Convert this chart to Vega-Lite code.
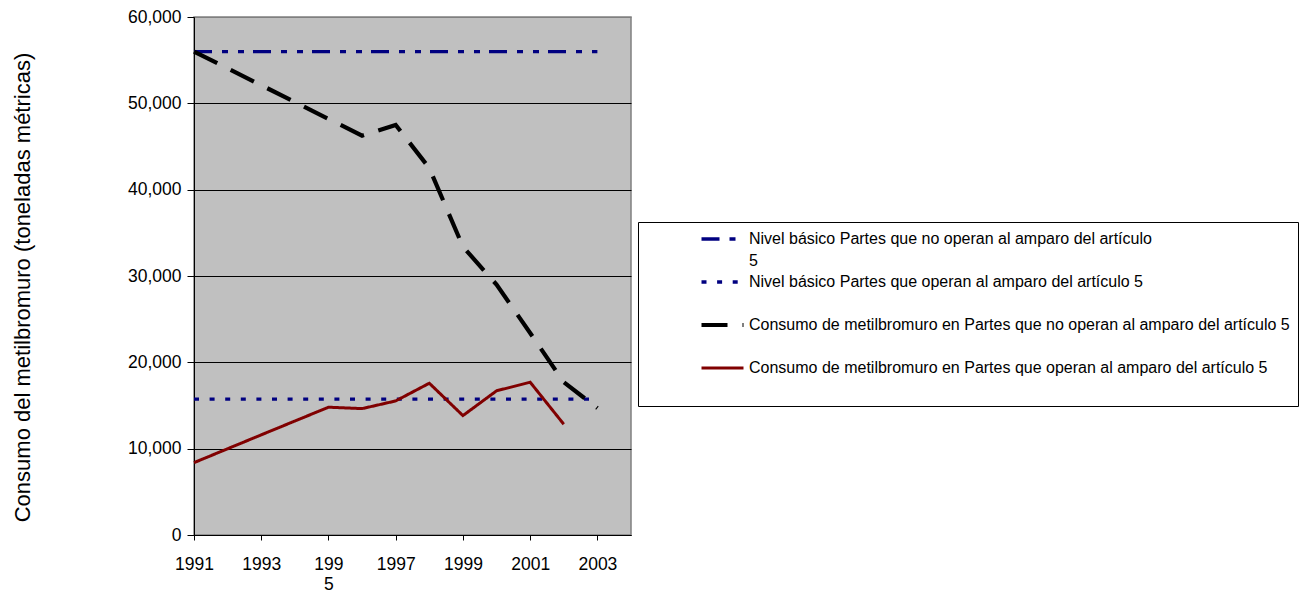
{
  "$schema": "https://vega.github.io/schema/vega-lite/v6.json",
  "width": 437,
  "height": 518,
  "autosize": {"type": "none"},
  "padding": {"left": 194, "top": 17, "right": 675, "bottom": 56},
  "background": "white",
  "config": {
    "font": "Liberation Sans",
    "view": {"fill": "#C0C0C0", "stroke": "#808080", "strokeWidth": 1.5}
  },
  "data": {
    "values": [
      {"year": 1991, "serie": "Nivel básico Partes que no operan al amparo del artículo 5", "value": 56000},
      {"year": 1992, "serie": "Nivel básico Partes que no operan al amparo del artículo 5", "value": 56000},
      {"year": 1993, "serie": "Nivel básico Partes que no operan al amparo del artículo 5", "value": 56000},
      {"year": 1994, "serie": "Nivel básico Partes que no operan al amparo del artículo 5", "value": 56000},
      {"year": 1995, "serie": "Nivel básico Partes que no operan al amparo del artículo 5", "value": 56000},
      {"year": 1996, "serie": "Nivel básico Partes que no operan al amparo del artículo 5", "value": 56000},
      {"year": 1997, "serie": "Nivel básico Partes que no operan al amparo del artículo 5", "value": 56000},
      {"year": 1998, "serie": "Nivel básico Partes que no operan al amparo del artículo 5", "value": 56000},
      {"year": 1999, "serie": "Nivel básico Partes que no operan al amparo del artículo 5", "value": 56000},
      {"year": 2000, "serie": "Nivel básico Partes que no operan al amparo del artículo 5", "value": 56000},
      {"year": 2001, "serie": "Nivel básico Partes que no operan al amparo del artículo 5", "value": 56000},
      {"year": 2002, "serie": "Nivel básico Partes que no operan al amparo del artículo 5", "value": 56000},
      {"year": 2003, "serie": "Nivel básico Partes que no operan al amparo del artículo 5", "value": 56000},
      {"year": 1991, "serie": "Nivel básico Partes que operan al amparo del artículo 5", "value": 15730},
      {"year": 1992, "serie": "Nivel básico Partes que operan al amparo del artículo 5", "value": 15730},
      {"year": 1993, "serie": "Nivel básico Partes que operan al amparo del artículo 5", "value": 15730},
      {"year": 1994, "serie": "Nivel básico Partes que operan al amparo del artículo 5", "value": 15730},
      {"year": 1995, "serie": "Nivel básico Partes que operan al amparo del artículo 5", "value": 15730},
      {"year": 1996, "serie": "Nivel básico Partes que operan al amparo del artículo 5", "value": 15730},
      {"year": 1997, "serie": "Nivel básico Partes que operan al amparo del artículo 5", "value": 15730},
      {"year": 1998, "serie": "Nivel básico Partes que operan al amparo del artículo 5", "value": 15730},
      {"year": 1999, "serie": "Nivel básico Partes que operan al amparo del artículo 5", "value": 15730},
      {"year": 2000, "serie": "Nivel básico Partes que operan al amparo del artículo 5", "value": 15730},
      {"year": 2001, "serie": "Nivel básico Partes que operan al amparo del artículo 5", "value": 15730},
      {"year": 2002, "serie": "Nivel básico Partes que operan al amparo del artículo 5", "value": 15730},
      {"year": 2003, "serie": "Nivel básico Partes que operan al amparo del artículo 5", "value": 15730},
      {"year": 1991, "serie": "Consumo de metilbromuro en Partes que no operan al amparo del artículo 5", "value": 56000},
      {"year": 1992, "serie": "Consumo de metilbromuro en Partes que no operan al amparo del artículo 5", "value": 54050},
      {"year": 1993, "serie": "Consumo de metilbromuro en Partes que no operan al amparo del artículo 5", "value": 52100},
      {"year": 1994, "serie": "Consumo de metilbromuro en Partes que no operan al amparo del artículo 5", "value": 50150},
      {"year": 1995, "serie": "Consumo de metilbromuro en Partes que no operan al amparo del artículo 5", "value": 48200},
      {"year": 1996, "serie": "Consumo de metilbromuro en Partes que no operan al amparo del artículo 5", "value": 46250},
      {"year": 1997, "serie": "Consumo de metilbromuro en Partes que no operan al amparo del artículo 5", "value": 47500},
      {"year": 1998, "serie": "Consumo de metilbromuro en Partes que no operan al amparo del artículo 5", "value": 42500},
      {"year": 1999, "serie": "Consumo de metilbromuro en Partes que no operan al amparo del artículo 5", "value": 33400},
      {"year": 2000, "serie": "Consumo de metilbromuro en Partes que no operan al amparo del artículo 5", "value": 29000},
      {"year": 2001, "serie": "Consumo de metilbromuro en Partes que no operan al amparo del artículo 5", "value": 23400},
      {"year": 2002, "serie": "Consumo de metilbromuro en Partes que no operan al amparo del artículo 5", "value": 17700},
      {"year": 2003, "serie": "Consumo de metilbromuro en Partes que no operan al amparo del artículo 5", "value": 14700},
      {"year": 1991, "serie": "Consumo de metilbromuro en Partes que operan al amparo del artículo 5", "value": 8380},
      {"year": 1992, "serie": "Consumo de metilbromuro en Partes que operan al amparo del artículo 5", "value": 9990},
      {"year": 1993, "serie": "Consumo de metilbromuro en Partes que operan al amparo del artículo 5", "value": 11600},
      {"year": 1994, "serie": "Consumo de metilbromuro en Partes que operan al amparo del artículo 5", "value": 13200},
      {"year": 1995, "serie": "Consumo de metilbromuro en Partes que operan al amparo del artículo 5", "value": 14800},
      {"year": 1996, "serie": "Consumo de metilbromuro en Partes que operan al amparo del artículo 5", "value": 14640},
      {"year": 1997, "serie": "Consumo de metilbromuro en Partes que operan al amparo del artículo 5", "value": 15530},
      {"year": 1998, "serie": "Consumo de metilbromuro en Partes que operan al amparo del artículo 5", "value": 17580},
      {"year": 1999, "serie": "Consumo de metilbromuro en Partes que operan al amparo del artículo 5", "value": 13830},
      {"year": 2000, "serie": "Consumo de metilbromuro en Partes que operan al amparo del artículo 5", "value": 16700},
      {"year": 2001, "serie": "Consumo de metilbromuro en Partes que operan al amparo del artículo 5", "value": 17700},
      {"year": 2002, "serie": "Consumo de metilbromuro en Partes que operan al amparo del artículo 5", "value": 12830}
    ]
  },
  "mark": {"type": "line", "clip": false},
  "encoding": {
    "x": {
      "field": "year",
      "type": "quantitative",
      "scale": {"domain": [1991, 2004], "nice": false, "zero": false},
      "axis": {
        "values": [1991, 1993, 1995, 1997, 1999, 2001, 2003],
        "format": "d",
        "title": null,
        "grid": false,
        "domainColor": "black",
        "domainWidth": 1,
        "tickColor": "black",
        "tickSize": 5,
        "labelPadding": 15,
        "labelFontSize": 17.5,
        "labelColor": "black",
        "labelLineHeight": 20,
        "labelFlush": false,
        "labelOverlap": false,
        "labelExpr": "datum.value == 1995 ? ['199', '5'] : datum.label"
      }
    },
    "y": {
      "field": "value",
      "type": "quantitative",
      "scale": {"domain": [0, 60000], "nice": false},
      "axis": {
        "values": [0, 10000, 20000, 30000, 40000, 50000, 60000],
        "format": ",d",
        "title": "Consumo del metilbromuro (toneladas métricas)",
        "titleFontSize": 22,
        "titleFontWeight": "normal",
        "titleColor": "black",
        "titleAngle": -90,
        "titleAlign": "center",
        "titleBaseline": "middle",
        "titleX": -171.5,
        "titleY": 270,
        "grid": true,
        "gridColor": {"condition": {"test": "datum.value == 60000", "value": "#808080"}, "value": "black"},
        "gridWidth": 1,
        "domainColor": "black",
        "tickColor": "black",
        "tickSize": 7,
        "labelPadding": 6,
        "labelFontSize": 17.5,
        "labelColor": "black",
        "labelFlush": false,
        "labelOverlap": false
      }
    },
    "color": {
      "field": "serie",
      "type": "nominal",
      "sort": null,
      "scale": {
        "domain": [
          "Nivel básico Partes que no operan al amparo del artículo 5",
          "Nivel básico Partes que operan al amparo del artículo 5",
          "Consumo de metilbromuro en Partes que no operan al amparo del artículo 5",
          "Consumo de metilbromuro en Partes que operan al amparo del artículo 5"
        ],
        "range": ["#000080", "#000080", "#000000", "#800000"]
      },
      "legend": {
        "title": null,
        "orient": "none",
        "legendX": 444,
        "legendY": 205,
        "direction": "vertical",
        "padding": 8,
        "fillColor": "white",
        "strokeColor": "black",
        "symbolType": "stroke",
        "symbolSize": 1764,
        "symbolOffset": 53,
        "labelOffset": 3,
        "labelFont": "Liberation Sans",
        "labelFontSize": 16,
        "labelColor": "black",
        "labelLimit": 800,
        "rowPadding": 4,
        "labelExpr": "datum.label == 'Nivel básico Partes que no operan al amparo del artículo 5' ? ['Nivel básico Partes que no operan al amparo del artículo', '5'] : [datum.label, '']",
        "encode": {
          "symbols": {"update": {"y": {"value": 9}}},
          "labels": {"update": {"y": {"value": 9}, "lineHeight": {"value": 22}}}
        }
      }
    },
    "strokeDash": {
      "field": "serie",
      "type": "nominal",
      "sort": null,
      "scale": {
        "domain": [
          "Nivel básico Partes que no operan al amparo del artículo 5",
          "Nivel básico Partes que operan al amparo del artículo 5",
          "Consumo de metilbromuro en Partes que no operan al amparo del artículo 5",
          "Consumo de metilbromuro en Partes que operan al amparo del artículo 5"
        ],
        "range": [[18, 10, 6, 10, 6, 9], [5, 10.6], [26, 15], [1, 0]]
      }
    },
    "strokeWidth": {
      "field": "serie",
      "type": "nominal",
      "sort": null,
      "scale": {
        "type": "ordinal",
        "domain": [
          "Nivel básico Partes que no operan al amparo del artículo 5",
          "Nivel básico Partes que operan al amparo del artículo 5",
          "Consumo de metilbromuro en Partes que no operan al amparo del artículo 5",
          "Consumo de metilbromuro en Partes que operan al amparo del artículo 5"
        ],
        "range": [3.3, 3.3, 4.2, 3]
      }
    }
  }
}
